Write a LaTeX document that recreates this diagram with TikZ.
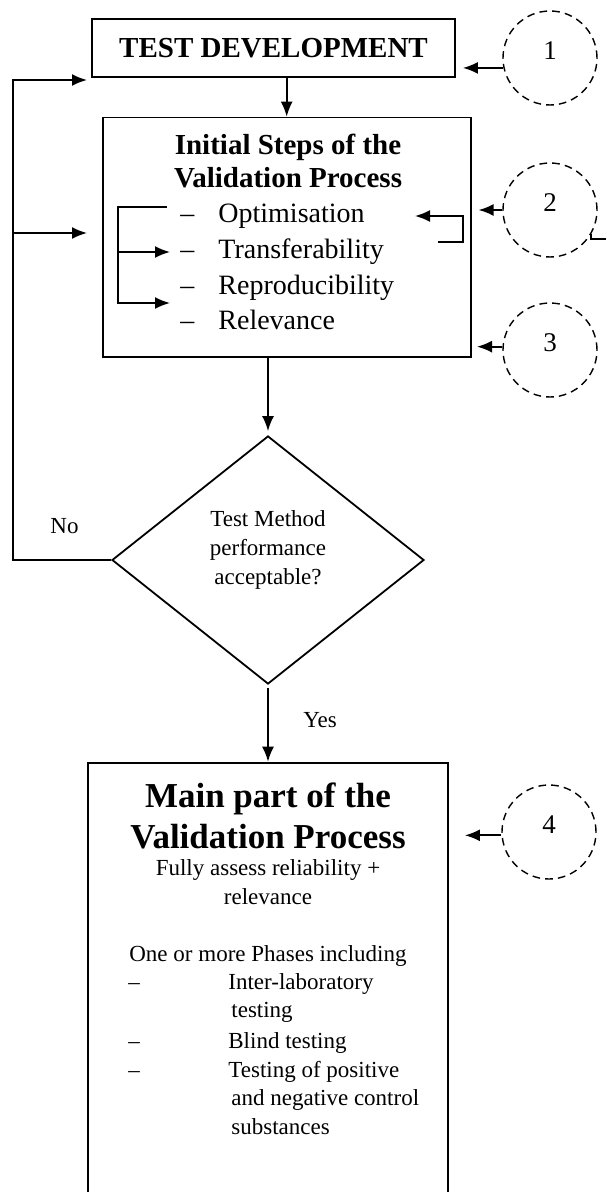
\documentclass[tikz,border=0pt]{standalone}
\usepackage{fontspec}
\setmainfont{Liberation Serif}
\usetikzlibrary{positioning,shapes.geometric,arrows.meta}

\newcommand{\titlefont}{\bfseries\fontsize{14.5}{16.5}\selectfont}
\newcommand{\bigtitlefont}{\bfseries\fontsize{17.5}{20.5}\selectfont}
\newcommand{\listfont}{\fontsize{14}{17.8}\selectfont}
\newcommand{\bodyfont}{\fontsize{11.5}{14.35}\selectfont}
\newcommand{\itemdash}{\makebox[19pt][l]{--}}
\newcommand{\phasedash}{\makebox[50pt][l]{--}}

\tikzset{
	flow/.style={-{Latex[length=7.5pt,width=6pt]}, line width=0.9pt},
	procbox/.style={draw, line width=0.9pt, inner sep=0pt},
	decision/.style={draw, diamond, line width=0.9pt, inner sep=0pt, aspect=1.258, minimum width=156pt, minimum height=124pt},
	stagecircle/.style={draw, circle, line width=0.7pt, dash pattern=on 3.8pt off 2.6pt, minimum size=47pt, inner sep=0pt, text depth=7pt, font=\fontsize{13.5}{16}\selectfont},
	listitem/.style={anchor=base west, inner sep=0pt, font=\listfont},
	bodytext/.style={inner sep=0pt, font=\bodyfont},
}

\begin{document}
\begin{tikzpicture}[x=0.5pt,y=-0.5pt]
		\useasboundingbox (0,0) rectangle (606,1192);
		\clip (0,0) rectangle (606,1192);

		% Define nodes
		\node[procbox, minimum width=181.5pt, minimum height=29pt, font=\titlefont] (dev) at (273.5,48) {TEST DEVELOPMENT};
		\node[procbox, minimum width=184pt, minimum height=119.75pt] (init) at (286.7,237.3) {};
		\node[decision] (dec) at (268,560) {};
		\node[procbox, minimum width=180pt, minimum height=250pt, anchor=north] (main) at (268,761.7) {};

		\node[stagecircle] (s1) at (550,58) {1};
		\node[stagecircle] (s2) at (550,210) {2};
		\node[stagecircle] (s3) at (550,350) {3};
		\node[stagecircle] (s4) at (549,832) {4};

		% Initial steps
		\node[font=\titlefont, align=center, anchor=base, inner sep=0pt] (ititle) at (288,188) {Initial Steps of the\\Validation Process};
		\node[listitem] (opt) at (180,223) {\itemdash Optimisation};
		\node[listitem, below=17.8pt of opt.base west, anchor=base west] (tra) {\itemdash Transferability};
		\node[listitem, below=17.8pt of tra.base west, anchor=base west] (rep) {\itemdash Reproducibility};
		\node[listitem, below=17.8pt of rep.base west, anchor=base west] (rel) {\itemdash Relevance};

		% Decision
		\node[bodytext, align=center] (qtext) at ([yshift=5pt]dec.center) {Test Method\\performance\\acceptable?};
		\node[bodytext, anchor=base west] (no) at (50,533) {No};
		\node[bodytext, anchor=base west] (yes) at (303,727) {Yes};

		% Main part
		\node[font=\bigtitlefont, align=center, anchor=base, inner sep=0pt] (mtitle) at (268,848) {Main part of the\\Validation Process};
		\node[bodytext, align=center, anchor=base] (mnote) at (268,904) {Fully assess reliability +\\relevance};
		\node[bodytext, anchor=base] (mphase) at (268,961) {One or more Phases including};
		\node[bodytext, anchor=base west] (ph1) at (128,989) {\phasedash\parbox[t]{100pt}{Inter-laboratory\\\hspace*{1.5pt}testing}};
		\node[bodytext, anchor=base west] (ph2) at (128,1048) {\phasedash Blind testing};
		\node[bodytext, anchor=base west] (ph3) at (128,1077) {\phasedash\parbox[t]{110pt}{Testing of positive\\\hspace*{1.5pt}and negative control\\\hspace*{1.5pt}substances}};

		% Free ends
		\coordinate (toDev) at (87,80);
		\coordinate (toInit) at (87,233);
		\coordinate (loopX) at (13,0);
		\coordinate (brTop) at (167,207);
		\coordinate (brMid) at (170,252);
		\coordinate (brBot) at (170,303);
		\coordinate (rbStart) at (438,242);
		\coordinate (rbEnd) at (415,216);
		\coordinate (tail) at (606,239);

		% Connect the nodes
		\draw[flow] (dev.south -| init.north) -- (init.north);
		\draw[flow, shorten >=2pt] (init.south -| dec.north) -- (dec.north);
		\draw[flow, shorten <=1.5pt] (dec.south) -- (main.north);
		\draw[flow] (dec.west) -- (dec.west -| loopX) |- (toDev);
		\draw[flow] (loopX |- toInit) -- (toInit);

		\draw[flow] (brTop) -- ++(-49,0) |- (brBot);
		\draw[flow] (brTop -| 118,0) |- (brMid);
		\draw[flow] (rbStart) -- ++(25,0) |- (rbEnd);

		\draw[flow, shorten >=3.5pt] (s1.192) -- (s1.192 -| dev.east);
		\draw[flow, shorten >=3.5pt] (s2.180) -- (s2.180 -| init.east);
		\draw[flow, shorten >=2.7pt] (s3.176) -- (s3.176 -| init.east);
		\draw[flow, shorten >=8pt] (s4.184) -- (s4.184 -| main.east);
		\draw[line width=0.9pt] (s2.-30) |- (tail);

	\end{tikzpicture}
\end{document}
